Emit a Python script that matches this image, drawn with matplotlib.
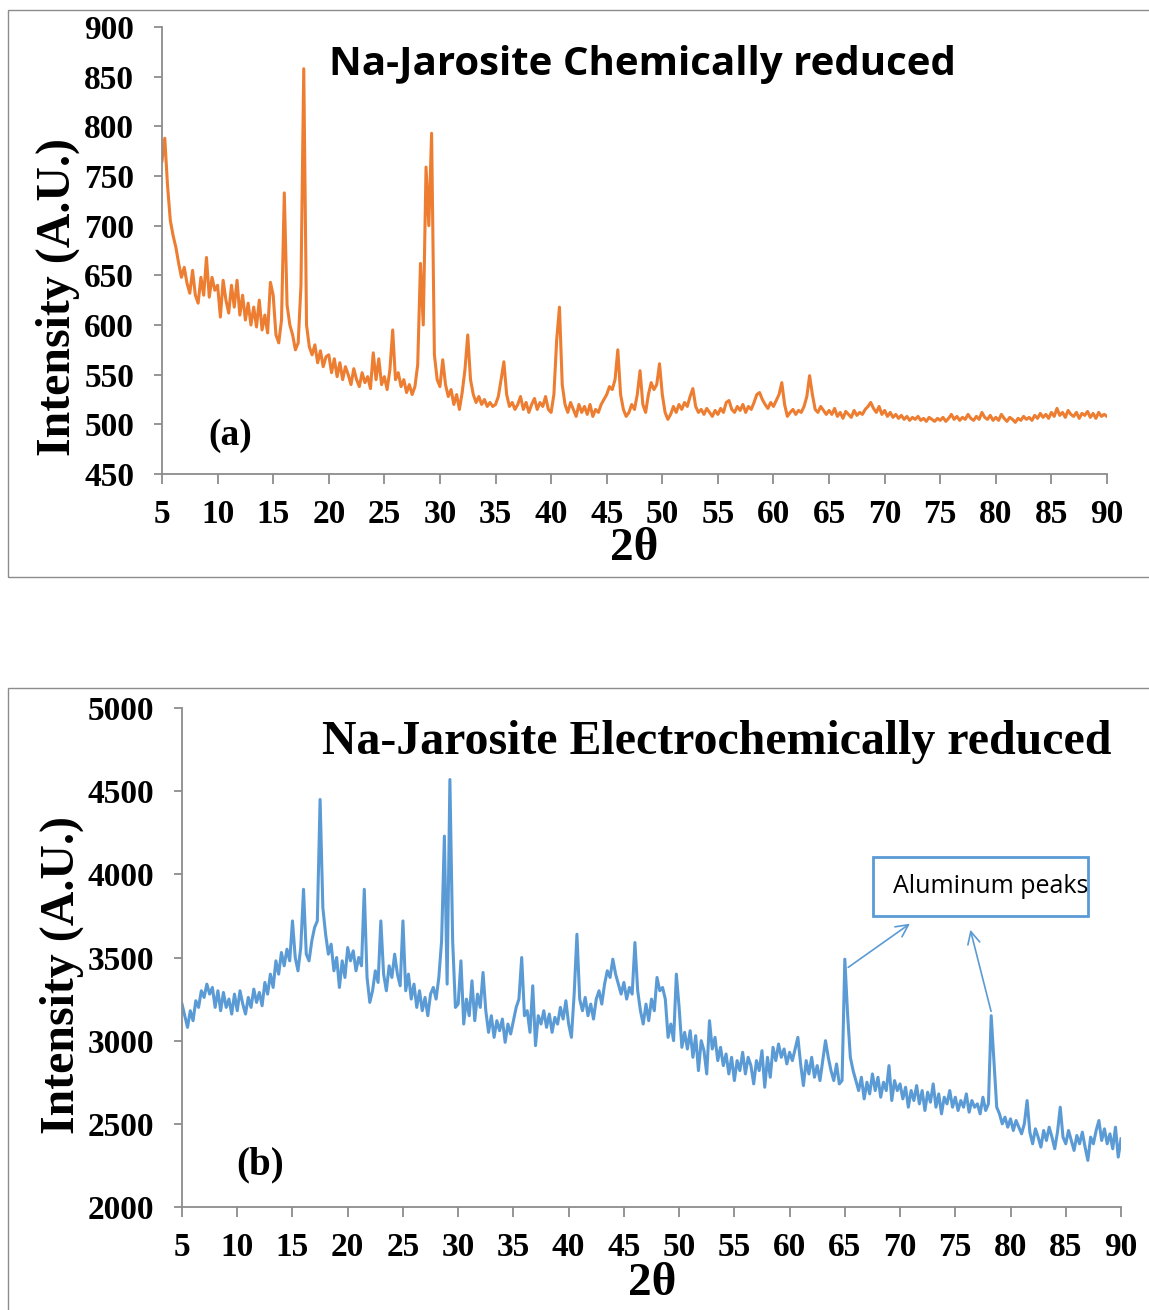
import numpy as np
import matplotlib.pyplot as plt
from matplotlib.patches import Rectangle

# 2-theta grid (degrees), one reading every 0.25 deg
two_theta = np.arange(5.0, 90.001, 0.25)

# Panel (a): Na-Jarosite chemically reduced
intensity_chem = [
    765, 788, 740, 705, 690, 678, 662, 648, 658, 642, 632, 655, 630, 622, 648, 630, 668, 628, 648, 635,
    640, 608, 645, 625, 612, 640, 618, 645, 610, 630, 605, 622, 600, 618, 598, 625, 595, 610, 592, 643,
    630, 590, 582, 605, 733, 620, 600, 590, 575, 582, 640, 858, 600, 578, 570, 580, 562, 574, 558, 568,
    570, 552, 566, 548, 562, 545, 558, 550, 540, 556, 545, 538, 552, 542, 548, 536, 572, 545, 566, 540,
    548, 535, 555, 595, 545, 552, 538, 545, 532, 540, 530, 538, 560, 662, 600, 759, 700, 793, 570, 545,
    538, 565, 540, 528, 535, 520, 530, 515, 532, 555, 590, 545, 530, 522, 528, 520, 525, 518, 522, 518,
    520, 528, 545, 563, 530, 518, 522, 515, 520, 528, 515, 522, 512, 520, 526, 515, 522, 518, 528, 515,
    512, 530, 585, 618, 540, 520, 512, 522, 515, 508, 520, 512, 518, 510, 520, 508, 515, 512, 520, 525,
    530, 538, 535, 545, 575, 530, 515, 508, 512, 520, 515, 530, 554, 520, 512, 530, 542, 535, 540, 561,
    530, 512, 505, 510, 518, 512, 520, 515, 522, 518, 528, 536, 518, 512, 515, 510, 516, 512, 508, 514,
    510, 516, 512, 522, 524, 515, 512, 518, 514, 520, 512, 518, 515, 522, 530, 532, 525, 520, 516, 522,
    518, 524, 530, 542, 520, 508, 512, 515, 510, 514, 512, 518, 528, 549, 530, 515, 512, 518, 514, 510,
    514, 510, 516, 508, 512, 506, 513, 510, 507, 514, 509, 512, 510, 515, 518, 522, 516, 512, 518, 510,
    514, 508, 512, 507, 510, 506, 509, 505, 508, 504, 507, 505, 508, 504, 506, 503, 507, 505, 503, 506,
    504, 507, 503, 506, 510, 505, 508, 504, 507, 505, 510, 506, 504, 508, 505, 512, 507, 505, 509, 504,
    507, 504, 510, 506, 503, 507, 505, 502, 506, 504, 508, 505, 507, 504, 509, 506, 511, 507, 510, 506,
    512, 508, 516, 509, 512, 507, 514, 510, 508, 512, 506, 511, 509, 513, 507, 511, 506, 512, 508, 510,
    508,
]

# Panel (b): Na-Jarosite electrochemically reduced
intensity_elec = [
    3220, 3150, 3080, 3180, 3120, 3240, 3200, 3300, 3260, 3340, 3280, 3320, 3200, 3300, 3180, 3290, 3200, 3250, 3160, 3280,
    3180, 3300, 3220, 3160, 3260, 3200, 3310, 3230, 3290, 3210, 3350, 3280, 3400, 3320, 3480, 3400, 3530, 3450, 3550, 3480,
    3720, 3500, 3420, 3560, 3910, 3520, 3480, 3600, 3680, 3720, 4450, 3800, 3640, 3520, 3580, 3420, 3500, 3320, 3480, 3380,
    3560, 3480, 3540, 3420, 3500, 3450, 3910, 3380, 3230, 3300, 3420, 3350, 3720, 3400, 3300, 3450, 3380, 3520, 3400, 3330,
    3720, 3300, 3400, 3250, 3340, 3200, 3300, 3180, 3260, 3150, 3280, 3320, 3250, 3380, 3600, 4230, 3340, 4570, 3600, 3200,
    3220, 3480, 3100, 3250, 3150, 3360, 3120, 3280, 3200, 3410, 3180, 3050, 3150, 3020, 3120, 3060, 3130, 2990, 3100, 3040,
    3120, 3200, 3250, 3500, 3150, 3180, 3050, 3330, 2970, 3150, 3100, 3180, 3080, 3160, 3050, 3140, 3100, 3200, 3130, 3240,
    3100, 3020, 3280, 3640, 3250, 3180, 3260, 3150, 3220, 3130, 3250, 3300, 3220, 3340, 3420, 3380, 3490, 3400, 3340, 3280,
    3350, 3250, 3320, 3280, 3590, 3300, 3180, 3100, 3220, 3120, 3250, 3180, 3380, 3300, 3320, 3250, 3020, 3100, 3000, 3400,
    3200, 2960, 3050, 2950, 3060, 2900, 3030, 2820, 3000, 2940, 2800, 3120, 2950, 3020, 2880, 2960, 2850, 2920, 2800, 2900,
    2760, 2880, 2820, 2930, 2800, 2900, 2850, 2740, 2880, 2820, 2940, 2720, 2900, 2780, 2960, 2880, 2980, 2900, 2950, 2860,
    2930, 2880, 2950, 3020, 2860, 2730, 2880, 2800, 2900, 2780, 2850, 2760, 2880, 3000, 2900, 2820, 2760, 2860, 2740, 2760,
    3490, 3160, 2900, 2820, 2760, 2700, 2780, 2650, 2750, 2680, 2800, 2700, 2780, 2660, 2750, 2700, 2850, 2640, 2760, 2700,
    2740, 2650, 2720, 2600, 2700, 2640, 2730, 2620, 2700, 2580, 2690, 2630, 2740, 2600, 2680, 2560, 2660, 2620, 2700, 2600,
    2660, 2580, 2640, 2600, 2680, 2570, 2640, 2600, 2620, 2560, 2660, 2580, 2620, 3150, 2880, 2600, 2560, 2500, 2540, 2480,
    2530, 2460, 2520, 2480, 2440, 2500, 2640, 2450, 2380, 2470, 2420, 2360, 2460, 2400, 2480, 2420, 2350, 2450, 2600, 2420,
    2380, 2460, 2400, 2340, 2430, 2380, 2450, 2360, 2280, 2420, 2380, 2460, 2520, 2400, 2470, 2380, 2440, 2350, 2480, 2300,
    2410,
]

x_ticks = list(range(5, 91, 5))
y_ticks_a = list(range(450, 901, 50))
y_ticks_b = list(range(2000, 5001, 500))

ORANGE = '#ED7D31'
BLUE = '#5B9BD5'
GREY = '#8C8C8C'
SERIF = 'Liberation Serif'

fig = plt.figure(figsize=(11.49, 13.10), dpi=100)
W, H = 1149, 1310


def fx(px):
    return px / W


def fy(py):
    return 1 - py / H


# panel frames
fig.patches.append(Rectangle((fx(8), fy(577)), 1.2, fy(10) - fy(577), transform=fig.transFigure,
                             fill=False, edgecolor=GREY, lw=1.0))
fig.patches.append(Rectangle((fx(8), fy(1330)), 1.2, fy(688) - fy(1330), transform=fig.transFigure,
                             fill=False, edgecolor=GREY, lw=1.0))


def style_axes(ax, yticks):
    for s in ['top', 'right']:
        ax.spines[s].set_visible(False)
    for s in ['left', 'bottom']:
        ax.spines[s].set_color(GREY)
        ax.spines[s].set_linewidth(1.3)
    ax.set_xticks(x_ticks)
    ax.set_yticks(yticks)
    ax.tick_params(axis='x', length=7, width=1.3, color=GREY, pad=11, labelsize=24)
    ax.tick_params(axis='y', length=6, width=1.3, color=GREY, pad=14, labelsize=24)
    for lab in ax.get_xticklabels() + ax.get_yticklabels():
        lab.set_fontfamily(SERIF)
        lab.set_fontweight('bold')


# ---- panel (a)
ax1 = fig.add_axes([fx(162), fy(474), fx(1107) - fx(162), fy(27) - fy(474)])
ax1.plot(two_theta, intensity_chem, color=ORANGE, lw=2.2)
ax1.set_xlim(5, 90)
ax1.set_ylim(450, 900)
style_axes(ax1, y_ticks_a)
ax1.text(0.508, 0.915, 'Na-Jarosite Chemically reduced', transform=ax1.transAxes,
         ha='center', va='center', fontsize=29, fontweight='bold', family='Open Sans')
ax1.text(11.1, 489, '(a)', ha='center', va='center', fontsize=27, fontweight='bold', family=SERIF)
fig.text(fx(58), fy(297), 'Intensity (A.U.)', rotation=90, ha='center', va='center',
         fontsize=34.5, fontweight='bold', family=SERIF)
fig.text(fx(634), fy(549), '2θ', ha='center', va='center', fontsize=34, fontweight='bold', family=SERIF)

# ---- panel (b)
ax2 = fig.add_axes([fx(182), fy(1207), fx(1121) - fx(182), fy(708) - fy(1207)])
ax2.plot(two_theta, intensity_elec, color=BLUE, lw=2.2)
ax2.set_xlim(5, 90)
ax2.set_ylim(2000, 5000)
style_axes(ax2, y_ticks_b)
ax2.text(0.569, 0.932, 'Na-Jarosite Electrochemically reduced', transform=ax2.transAxes,
         ha='center', va='center', fontsize=34.5, fontweight='bold', family=SERIF)
ax2.text(12.1, 2252, '(b)', ha='center', va='center', fontsize=28, fontweight='bold', family=SERIF)
fig.text(fx(62), fy(975), 'Intensity (A.U.)', rotation=90, ha='center', va='center',
         fontsize=34.5, fontweight='bold', family=SERIF)
fig.text(fx(652), fy(1284), '2θ', ha='center', va='center', fontsize=34, fontweight='bold', family=SERIF)

# aluminum peaks callout
ax2.add_patch(Rectangle((67.55, 3750), 87.0 - 67.55, 4104 - 3750, fill=True, facecolor='white',
                        edgecolor=BLUE, lw=2.0, zorder=3))
ax2.text(69.35, 3927, 'Aluminum peaks', ha='left', va='center', fontsize=18,
         family='Open Sans', zorder=4)
arrow = dict(arrowstyle='->', color=BLUE, lw=1.2, mutation_scale=22)
ax2.annotate('', xy=(71.1, 3713), xytext=(65.1, 3431), arrowprops=arrow)
ax2.annotate('', xy=(76.3, 3683), xytext=(78.3, 3160), arrowprops=arrow)

fig.savefig('out.png', dpi=100)
